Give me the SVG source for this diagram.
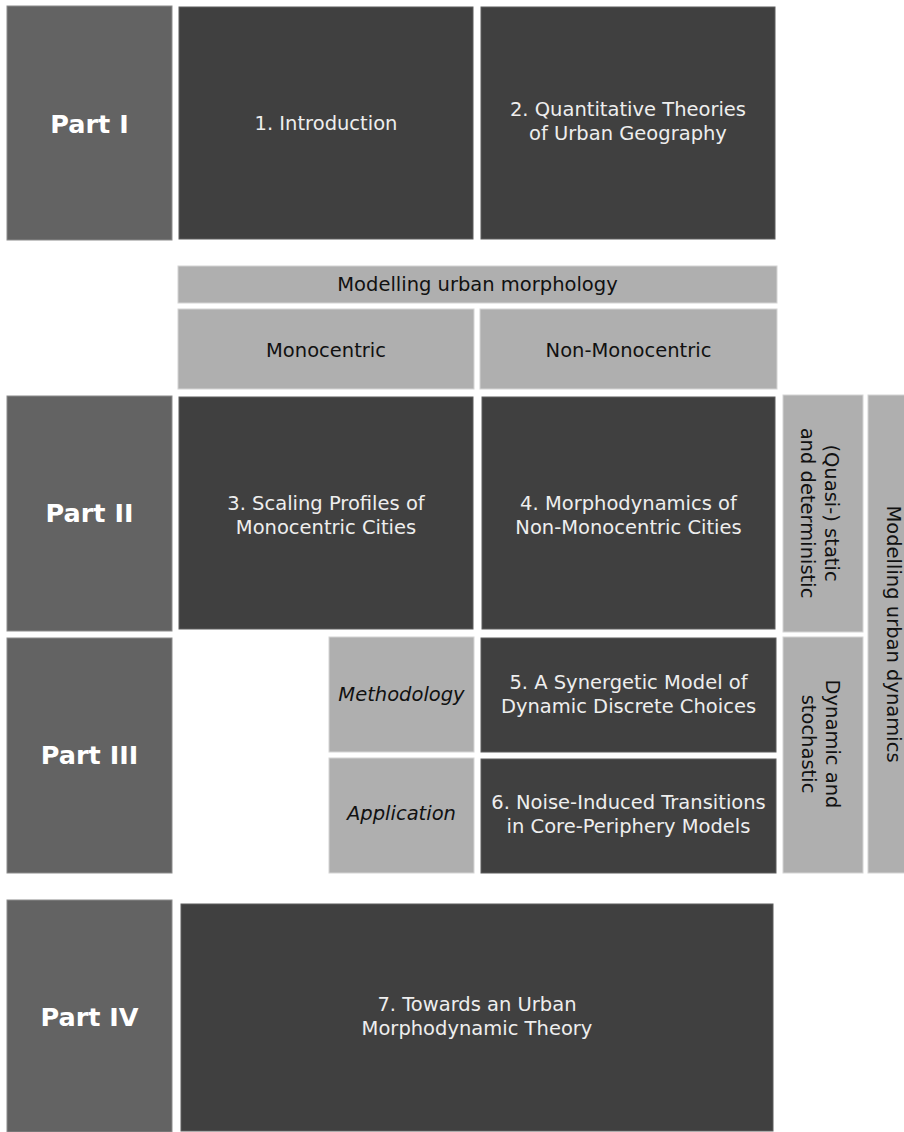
<svg xmlns="http://www.w3.org/2000/svg" width="904" height="1132" viewBox="0 0 904 1132">
<style>
.part{fill:#636363;stroke:#8c8c8c;stroke-width:1}
.dark{fill:#404040;stroke:#5c5c5c;stroke-width:1}
.light{fill:#afafaf;stroke:#d4d4d4;stroke-width:1}
text{font-family:"DejaVu Sans","Verdana",sans-serif;text-anchor:middle}
.pt{font-size:25.5px;font-weight:bold;fill:#ffffff}
.dt{font-size:19.5px;fill:#eeeeee}
.lt{font-size:19.5px;fill:#111111}
.it{font-style:italic}
</style>
<rect width="904" height="1132" fill="#ffffff"/>
<g id="part1"><rect class="part" x="7" y="6" width="165" height="234"/><text class="pt" x="89.5" y="133">Part I</text></g>
<g id="ch1"><rect class="dark" x="179" y="7" width="294" height="232"/><text class="dt" x="326" y="130">1. Introduction</text></g>
<g id="ch2"><rect class="dark" x="481" y="7" width="294" height="232"/><text class="dt" x="628" y="116">2. Quantitative Theories</text><text class="dt" x="628" y="140">of Urban Geography</text></g>
<g id="morph"><rect class="light" x="178" y="266" width="599" height="37"/><text class="lt" x="477.5" y="291">Modelling urban morphology</text></g>
<g id="mono"><rect class="light" x="178" y="309" width="296" height="80"/><text class="lt" x="326" y="357">Monocentric</text></g>
<g id="nonmono"><rect class="light" x="480" y="309" width="297" height="80"/><text class="lt" x="628.5" y="357">Non-Monocentric</text></g>
<g id="part2"><rect class="part" x="7" y="396" width="165" height="235"/><text class="pt" x="89.5" y="522">Part II</text></g>
<g id="ch3"><rect class="dark" x="179" y="397" width="294" height="232"/><text class="dt" x="326" y="510">3. Scaling Profiles of</text><text class="dt" x="326" y="534">Monocentric Cities</text></g>
<g id="ch4"><rect class="dark" x="482" y="397" width="293" height="232"/><text class="dt" x="628.5" y="510">4. Morphodynamics of</text><text class="dt" x="628.5" y="534">Non-Monocentric Cities</text></g>
<g id="quasi"><rect class="light" x="783" y="395" width="80" height="237"/><text class="lt" transform="translate(823 513) rotate(90)"><tspan x="0" y="-2">(Quasi-) static</tspan><tspan x="0" y="22">and deterministic</tspan></text></g>
<g id="dynsto"><rect class="light" x="783" y="637" width="80" height="236"/><text class="lt" transform="translate(823 744) rotate(90)"><tspan x="0" y="-3">Dynamic and</tspan><tspan x="0" y="21">stochastic</tspan></text></g>
<g id="urbdyn"><rect class="light" x="868" y="395" width="40" height="478"/><text class="lt" transform="translate(886 634) rotate(90)" x="0" y="-1">Modelling urban dynamics</text></g>
<g id="part3"><rect class="part" x="7" y="638" width="165" height="235"/><text class="pt" x="89.5" y="764">Part III</text></g>
<g id="method"><rect class="light" x="329" y="637" width="145" height="115"/><text class="lt it" x="401.5" y="701">Methodology</text></g>
<g id="appl"><rect class="light" x="329" y="758" width="145" height="115"/><text class="lt it" x="401.5" y="820">Application</text></g>
<g id="ch5"><rect class="dark" x="481" y="638" width="295" height="114"/><text class="dt" x="628.5" y="689">5. A Synergetic Model of</text><text class="dt" x="628.5" y="713">Dynamic Discrete Choices</text></g>
<g id="ch6"><rect class="dark" x="481" y="759" width="295" height="114"/><text class="dt" x="628.5" y="809">6. Noise-Induced Transitions</text><text class="dt" x="628.5" y="833">in Core-Periphery Models</text></g>
<g id="part4"><rect class="part" x="7" y="900" width="165" height="232"/><text class="pt" x="89.5" y="1026">Part IV</text></g>
<g id="ch7"><rect class="dark" x="181" y="904" width="592" height="227"/><text class="dt" x="477" y="1011">7. Towards an Urban</text><text class="dt" x="477" y="1035">Morphodynamic Theory</text></g>
<g id="connectors"></g>
</svg>
